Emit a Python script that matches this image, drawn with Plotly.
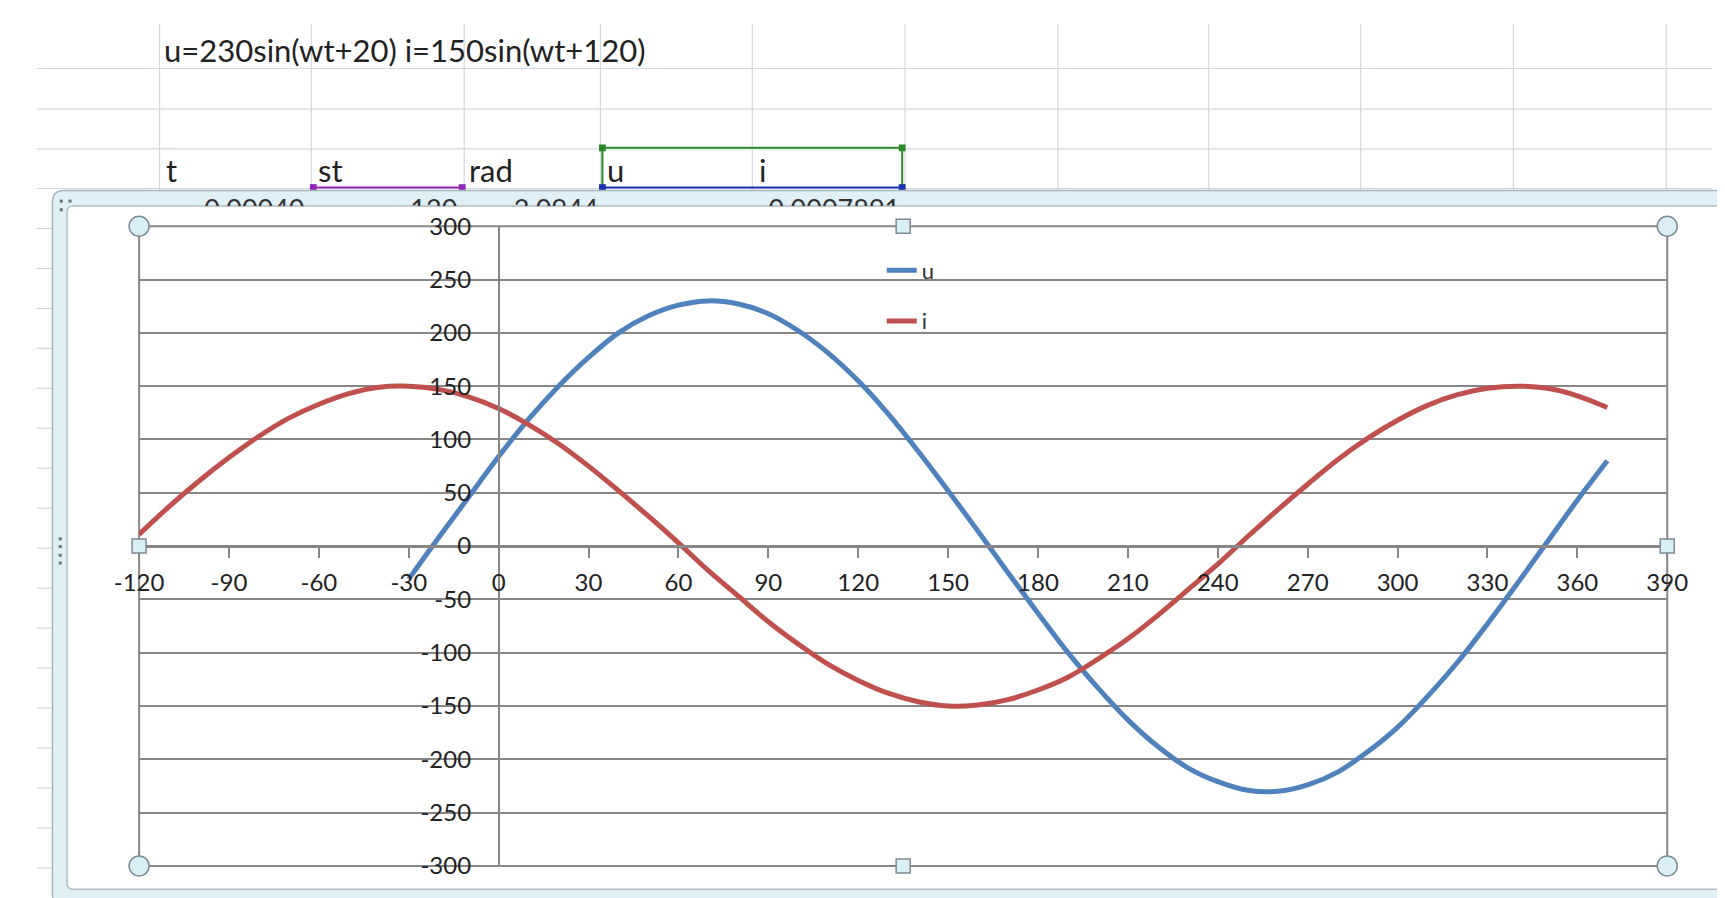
import plotly.graph_objects as go

W, H = 1725, 898

# ---------------- data ----------------
title_text = "u=230sin(wt+20) i=150sin(wt+120)"
header_labels = ["t", "st", "rad", "u", "i"]
first_row_values = ["-0.00040", "-120", "-2.0944", "0.0007891"]

angle_u = list(range(-30, 371, 10))
u_values = [-31, 8, 46, 84, 119, 150, 177, 200, 216, 226, 230, 227, 218, 202,
            181, 155, 124, 89, 52, 14, -25, -63, -100, -133, -163, -188, -208,
            -221, -229, -230, -224, -212, -193, -170, -141, -109, -73, -35, 4,
            43, 80]

angle_i = list(range(-120, 371, 10))
i_values = [11, 37, 61, 83, 103, 120, 133, 143, 149, 150, 147, 140, 129, 114,
            96, 75, 52, 28, 3, -23, -47, -71, -92, -111, -126, -138, -146, -150,
            -149, -144, -135, -123, -106, -87, -65, -41, -17, 9, 34, 58, 81, 101,
            118, 132, 142, 148, 150, 148, 141, 130]

x_ticks = list(range(-120, 391, 30))
y_ticks = list(range(-300, 301, 50))

# ---------------- helpers (pixel -> paper) ----------------
def px(x):
    return x / W


def py(y):
    return 1 - y / H


FONT = "Lato"
GRID = "#878787"
SHEET = "#d3d8de"

x_dom = [px(109), px(1679)]
y_dom = [py(870), py(209)]
x_rng = [-120, 390]
y_rng = [-300, 300]

fig = go.Figure()

fig.add_trace(go.Scatter(x=angle_u, y=u_values, mode="lines", name="u",
                         legendgroup="u",
                         line=dict(color="#4F81BD", width=5, shape="spline", smoothing=1)))
fig.add_trace(go.Scatter(x=angle_i, y=i_values, mode="lines", name="i",
                         legendgroup="i",
                         line=dict(color="#C0504D", width=5, shape="spline", smoothing=1)))

# clipped first data row of the sheet (hidden behind the chart frame)
num_right_px = [279, 436, 581, 891]
fig.add_trace(go.Scatter(x=num_right_px, y=[195] * len(num_right_px), mode="text",
                         text=first_row_values, textposition="middle left",
                         textfont=dict(family=FONT, size=27, color="#333333"),
                         cliponaxis=True, showlegend=False, hoverinfo="skip",
                         xaxis="x2", yaxis="y2"))

shapes = []

# spreadsheet grid: rows across the top
for ry in [46, 88, 129, 170]:
    shapes.append(dict(type="line", xref="paper", yref="paper", x0=px(4), x1=1,
                       y0=py(ry), y1=py(ry), line=dict(color=SHEET, width=1.2), layer="below"))
# spreadsheet grid: columns above the chart
for cx in [130, 286, 443, 583, 739, 896, 1053, 1208, 1364, 1521, 1678]:
    shapes.append(dict(type="line", xref="paper", yref="paper", x0=px(cx), x1=px(cx),
                       y0=py(0), y1=py(172), line=dict(color=SHEET, width=1.2), layer="below"))
# rows visible at the far left
for k in range(1, 19):
    ry = 170 + 41.3 * k
    shapes.append(dict(type="line", xref="paper", yref="paper", x0=px(4), x1=px(21),
                       y0=py(ry), y1=py(ry), line=dict(color=SHEET, width=1.2), layer="below"))

# selection outlines of the source ranges
def sq(cx, cy, color, s=3.5):
    return dict(type="rect", xref="paper", yref="paper", x0=px(cx - s), x1=px(cx + s),
                y0=py(cy + s), y1=py(cy - s), fillcolor=color, line=dict(width=0), layer="below")

GREEN, BLUE, PURPLE = "#2a8a2a", "#1c33b0", "#8e26b8"
shapes += [
    dict(type="line", xref="paper", yref="paper", x0=px(585), x1=px(893), y0=py(128), y1=py(128),
         line=dict(color=GREEN, width=2), layer="below"),
    dict(type="line", xref="paper", yref="paper", x0=px(585), x1=px(585), y0=py(128), y1=py(169),
         line=dict(color=GREEN, width=2), layer="below"),
    dict(type="line", xref="paper", yref="paper", x0=px(893), x1=px(893), y0=py(128), y1=py(169),
         line=dict(color=GREEN, width=2), layer="below"),
    dict(type="line", xref="paper", yref="paper", x0=px(585), x1=px(893), y0=py(169), y1=py(169),
         line=dict(color=BLUE, width=2), layer="below"),
    dict(type="line", xref="paper", yref="paper", x0=px(585), x1=px(585), y0=py(169), y1=py(180),
         line=dict(color=BLUE, width=1.5), layer="below"),
    dict(type="line", xref="paper", yref="paper", x0=px(893), x1=px(893), y0=py(169), y1=py(180),
         line=dict(color=BLUE, width=1.5), layer="below"),
    dict(type="line", xref="paper", yref="paper", x0=px(288), x1=px(441), y0=py(169), y1=py(169),
         line=dict(color=PURPLE, width=2), layer="below"),
    dict(type="line", xref="paper", yref="paper", x0=px(288), x1=px(288), y0=py(169), y1=py(180),
         line=dict(color=PURPLE, width=1.5), layer="below"),
    dict(type="line", xref="paper", yref="paper", x0=px(441), x1=px(441), y0=py(169), y1=py(180),
         line=dict(color=PURPLE, width=1.5), layer="below"),
    sq(585, 128, GREEN), sq(893, 128, GREEN), sq(585, 169, BLUE), sq(893, 169, BLUE),
    sq(288, 169, PURPLE), sq(441, 169, PURPLE),
]

# chart frame (selected chart object): light-blue band + white chart area
def rounded(x0, y0, x1, y1, r):
    return (f"M {px(x0)},{py(y0 + r)} Q {px(x0)},{py(y0)} {px(x0 + r)},{py(y0)} "
            f"L {px(x1)},{py(y0)} L {px(x1)},{py(y1)} L {px(x0 + r)},{py(y1)} "
            f"Q {px(x0)},{py(y1)} {px(x0)},{py(y1 - r)} Z")

shapes.append(dict(type="path", xref="paper", yref="paper", path=rounded(20, 172, 1760, 912, 12),
                   fillcolor="#dff1f7", line=dict(color="#a7b4ba", width=1.5), layer="below"))
shapes.append(dict(type="path", xref="paper", yref="paper", path=rounded(35, 188, 1760, 894, 6),
                   fillcolor="white", line=dict(color="#b2bcc1", width=1.5), layer="below"))
# frame grips
for gx, gy in [(29, 183), (38, 183), (29, 192), (28, 532), (28, 540), (28, 549), (28, 557)]:
    shapes.append(dict(type="rect", xref="paper", yref="paper", x0=px(gx - 1.6), x1=px(gx + 1.6),
                       y0=py(gy + 1.6), y1=py(gy - 1.6), fillcolor="#6d7c84",
                       line=dict(width=0), layer="below"))

# plot-area border
shapes.append(dict(type="rect", xref="x domain", yref="y domain", x0=0, x1=1, y0=0, y1=1,
                   line=dict(color=GRID, width=2), layer="below"))

# selection handles of the plot area
HFILL, HLINE = "#d9eef5", "#7b8a91"
for hx in (0, 1):
    for hy in (0, 1):
        shapes.append(dict(type="circle", xref="x domain", yref="y domain",
                           xsizemode="pixel", ysizemode="pixel", xanchor=hx, yanchor=hy,
                           x0=-10, x1=10, y0=-10, y1=10, fillcolor=HFILL,
                           line=dict(color=HLINE, width=1.5), layer="above"))
for hx, hy in [(0.5, 0), (0.5, 1), (0, 0.5), (1, 0.5)]:
    shapes.append(dict(type="rect", xref="x domain", yref="y domain",
                       xsizemode="pixel", ysizemode="pixel", xanchor=hx, yanchor=hy,
                       x0=-7, x1=7, y0=-7, y1=7, fillcolor=HFILL,
                       line=dict(color=HLINE, width=1.5), layer="above"))

# sheet texts
SHEET_FONT = dict(family=FONT, size=31, color="#222222")
annotations = [dict(text=title_text, x=px(133), y=py(27), xref="paper", yref="paper",
                    xanchor="left", yanchor="middle", showarrow=False, font=SHEET_FONT)]
for lab, hx in zip(header_labels, [135, 291, 446, 588, 744]):
    annotations.append(dict(text=lab, x=px(hx), y=py(151), xref="paper", yref="paper",
                            xanchor="left", yanchor="middle", showarrow=False, font=SHEET_FONT))

y_pos_x_axis = y_dom[0] + (0 - y_rng[0]) / (y_rng[1] - y_rng[0]) * (y_dom[1] - y_dom[0])
x_pos_y_axis = x_dom[0] + (0 - x_rng[0]) / (x_rng[1] - x_rng[0]) * (x_dom[1] - x_dom[0])

fig.update_layout(
    width=W, height=H,
    margin=dict(l=0, r=0, t=0, b=0),
    paper_bgcolor="white",
    plot_bgcolor="rgba(0,0,0,0)",
    font=dict(family=FONT, color="#222222"),
    showlegend=True,
    legend=dict(x=px(872), y=py(233), xanchor="left", yanchor="top",
                bgcolor="rgba(0,0,0,0)", font=dict(family=FONT, size=22, color="#333333"),
                tracegroupgap=19, itemwidth=30),
    xaxis=dict(domain=x_dom, range=x_rng, tickvals=x_ticks,
               ticktext=[str(v) for v in x_ticks], showgrid=False, zeroline=False,
               showline=True, linecolor=GRID, linewidth=3,
               ticks="outside", ticklen=10, tickwidth=2, tickcolor=GRID,
               anchor="free", position=y_pos_x_axis, ticklabelstandoff=4,
               tickfont=dict(family=FONT, size=24, color="#222222")),
    yaxis=dict(domain=y_dom, range=y_rng, tickvals=y_ticks,
               ticktext=[str(v) for v in y_ticks], showgrid=True, gridcolor=GRID,
               gridwidth=2, zeroline=False, showline=True, linecolor=GRID, linewidth=1.5,
               ticks="", anchor="free", position=x_pos_y_axis, ticklabelstandoff=22,
               tickfont=dict(family=FONT, size=24, color="#222222")),
    xaxis2=dict(domain=[0, 1], range=[0, W], visible=False, anchor="y2", fixedrange=True),
    yaxis2=dict(domain=[py(188), py(172)], range=[188, 172], visible=False, anchor="x2",
                fixedrange=True),
    shapes=shapes,
    annotations=annotations,
)

fig.write_html("out.html", config={"displayModeBar": False})
